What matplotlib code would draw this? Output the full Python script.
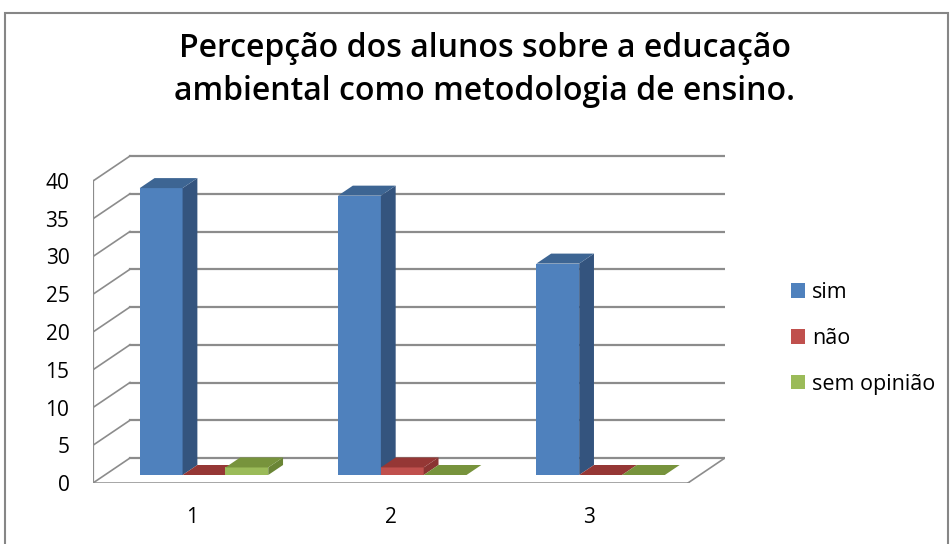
import numpy as np
import matplotlib
matplotlib.use("Agg")
import matplotlib.pyplot as plt
from matplotlib.patches import Rectangle, Patch

categorias = [1, 2, 3]
series = ["sim", "não", "sem opinião"]
sim = [38, 37, 28]
nao = [0, 1, 0]
sem_opiniao = [1, 0, 0]
valores = [sim, nao, sem_opiniao]
yticks = [0, 5, 10, 15, 20, 25, 30, 35, 40]
titulo = "Percepção dos alunos sobre a educação\nambiental como metodologia de ensino."

# cores: frente, topo, lado
cores = [("#4F81BD", "#3D6593", "#34547E"),
         ("#C0504D", "#953735", "#8A3432"),
         ("#9BBB59", "#77933C", "#6A8535")]

plt.rcParams['font.family'] = ['Open Sans', 'DejaVu Sans']

W, H = 953, 544
fig = plt.figure(figsize=(W / 100, H / 100), dpi=100)

# moldura do grafico
fig.add_artist(Rectangle((5 / W, -0.05), 943 / W, 1.05 - 13 / H,
                         transform=fig.transFigure, fill=False,
                         edgecolor="#868686", lw=1.5))

# eixo: frente do chao em px y=483, x=93..688 ; parede de fundo +37px, -25px
px_x = 198.3      # px por categoria
px_y = 7.55       # px por unidade
DX = 37 / px_x
DY = 25 / px_y
x0, x1 = 0.5, 3.5
ytop = 44.5
left_px, bottom_px = 93, 483
width_px = (x1 + DX - x0) * px_x
height_px = ytop * px_y
ax = fig.add_axes([left_px / W, 1 - bottom_px / H, width_px / W, height_px / H])
ax.set_xlim(x0, x1 + DX)
ax.set_ylim(0, ytop)
for s in ax.spines.values():
    s.set_visible(False)

grid_c = "#8C8C8C"
# parede do fundo e parede lateral
for v in yticks:
    ax.plot([x0 + DX, x1 + DX], [v + DY, v + DY], color=grid_c, lw=1.6, zorder=1)
    ax.plot([x0, x0 + DX], [v, v + DY], color=grid_c, lw=1.2, zorder=1)
# eixo vertical e chao
ax.plot([x0, x0], [0, yticks[-1]], color=grid_c, lw=1.6, zorder=1)
ax.plot([x0, x1], [0, 0], color=grid_c, lw=1.8, zorder=1)
ax.plot([x1, x1 + DX], [0, DY], color=grid_c, lw=1.2, zorder=1)

# barras 3D
bw = 0.216
fd, bd = 0.32, 0.72
for i, c in enumerate(categorias):
    for j, vals in enumerate(valores):
        v = vals[i]
        xl = c - 1.5 * bw + j * bw
        cf, ct, cs = cores[j]
        xf = xl + fd * DX
        xb = xl + bd * DX
        ax.bar(xf, v, width=bw, bottom=fd * DY, align="edge", color=cf,
               linewidth=0, zorder=3)
        # lado
        ax.fill([xf + bw, xb + bw, xb + bw, xf + bw],
                [fd * DY, bd * DY, v + bd * DY, v + fd * DY],
                color=cs, lw=0, zorder=3)
        # topo
        ax.fill([xf, xf + bw, xb + bw, xb],
                [v + fd * DY, v + fd * DY, v + bd * DY, v + bd * DY],
                color=ct, lw=0, zorder=3)

ax.set_yticks(yticks)
ax.set_yticklabels([str(t) for t in yticks])
ax.set_xticks(categorias)
ax.set_xticklabels([str(c) for c in categorias])
ax.tick_params(axis="y", length=0, pad=17, labelsize=15)
ax.tick_params(axis="x", length=0, pad=17, labelsize=15)

fig.text(485 / W, 1 - 70 / H, titulo, ha="center", va="center",
         fontsize=23, fontweight="semibold", linespacing=1.42)

handles = [Patch(facecolor=cores[k][0], edgecolor="none") for k in range(3)]
fig.legend(handles, series, loc="center left",
           bbox_to_anchor=(772 / W, 1 - 338.5 / H), frameon=False,
           fontsize=15.5, handlelength=0.65, handleheight=0.65,
           handletextpad=0.3, labelspacing=1.15)

fig.savefig("out.png", dpi=100)
